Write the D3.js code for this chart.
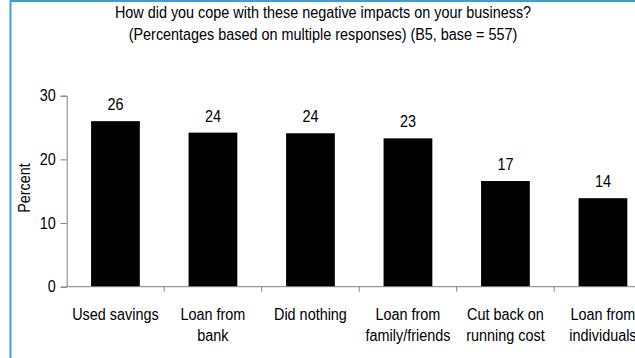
<!DOCTYPE html>
<html>
<head>
<meta charset="utf-8">
<script src="https://cdn.jsdelivr.net/npm/d3@7"></script>
<style>
  html, body { margin: 0; padding: 0; background: #fff; overflow: hidden; }
  svg { display: block; font-family: "Liberation Sans", Arial, sans-serif; }
  .axis path, .axis line { stroke: #808080; }
  .axis text { fill: #000; font-size: 16px; }
</style>
</head>
<body>
<svg id="chart" width="635" height="358"></svg>
<script>
/* ── Data ─────────────────────────────────────────────────────────────── */
const categories = [
  ['Used savings'],
  ['Loan from', 'bank'],
  ['Did nothing'],
  ['Loan from', 'family/friends'],
  ['Cut back on', 'running cost'],
  ['Loan from', 'individuals']
];
const values = [26.0, 24.2, 24.1, 23.3, 16.6, 13.9];
const valueLabels = ['26', '24', '24', '23', '17', '14'];
const yTicks = [0, 10, 20, 30];
const titleLines = [
  'How did you cope with these negative impacts on your business?',
  '(Percentages based on multiple responses) (B5, base = 557)'
];

/* ── Layout ───────────────────────────────────────────────────────────── */
const svg = d3.select('#chart');
const M = { l: 66.7, t: 95.7, b: 286.7 };
const bandW = 97.5;
const FS = 16;          // font size; glyphs get squeezed a bit below
const idx = d3.range(values.length);

const x = d3.scaleBand().domain(idx).range([M.l, M.l + bandW * values.length])
  .paddingInner(0.5).paddingOuter(0.25);
const y = d3.scaleLinear().domain([0, 30]).range([M.b, M.t]);

// outer frame (only left/top visible in the crop)
svg.append('rect').attr('x', 10.5).attr('y', 1).attr('width', 700).attr('height', 400)
  .attr('fill', 'none').attr('stroke', '#3b9fd1').attr('stroke-width', 2);

// title
svg.selectAll('.title').data(titleLines).join('text')
  .attr('class', 'title')
  .attr('x', 323).attr('y', (d, i) => 18 + i * 22)
  .attr('text-anchor', 'middle').attr('font-size', FS)
  .text(d => d);

// bars
svg.selectAll('.bar').data(values).join('rect')
  .attr('class', 'bar')
  .attr('x', (d, i) => x(i)).attr('width', x.bandwidth())
  .attr('y', d => y(d)).attr('height', d => y(0) - y(d))
  .attr('fill', '#000');

// value labels
svg.selectAll('.val').data(values).join('text')
  .attr('class', 'val')
  .attr('x', (d, i) => x(i) + x.bandwidth() / 2)
  .attr('y', d => y(d) - 11)
  .attr('text-anchor', 'middle').attr('font-size', FS)
  .text((d, i) => valueLabels[i]);

// y axis
svg.append('g').attr('class', 'axis')
  .attr('transform', `translate(${M.l},0)`)
  .call(d3.axisLeft(y).tickValues(yTicks).tickSize(6).tickPadding(5).tickFormat(d3.format('d')));

// x axis: line plus ticks at band boundaries
const xa = svg.append('g').attr('class', 'axis');
xa.append('line').attr('x1', M.l).attr('x2', M.l + bandW * values.length)
  .attr('y1', y(0)).attr('y2', y(0));
d3.range(1, values.length).forEach(i => {
  const bx = M.l + bandW * i;
  xa.append('line').attr('x1', bx).attr('x2', bx).attr('y1', y(0)).attr('y2', y(0) + 5);
});

// category labels
svg.selectAll('.cat').data(categories).join('g')
  .attr('class', 'cat')
  .each(function (d, i) {
    const g = d3.select(this);
    d.forEach((ln, j) => {
      g.append('text').attr('x', x(i) + x.bandwidth() / 2)
        .attr('y', 320 + j * 21)
        .attr('text-anchor', 'middle').attr('font-size', FS)
        .text(ln);
    });
  });

// y axis title
svg.append('text')
  .attr('transform', `translate(30,188) rotate(-90)`)
  .attr('text-anchor', 'middle').attr('font-size', FS)
  .text('Percent');

// reference font is a bit narrower than Liberation Sans: squeeze every text
svg.selectAll('text').each(function () {
  const w = this.getComputedTextLength();
  if (w > 0) d3.select(this).attr('textLength', w * 0.9).attr('lengthAdjust', 'spacingAndGlyphs');
});
</script>
</body>
</html>
